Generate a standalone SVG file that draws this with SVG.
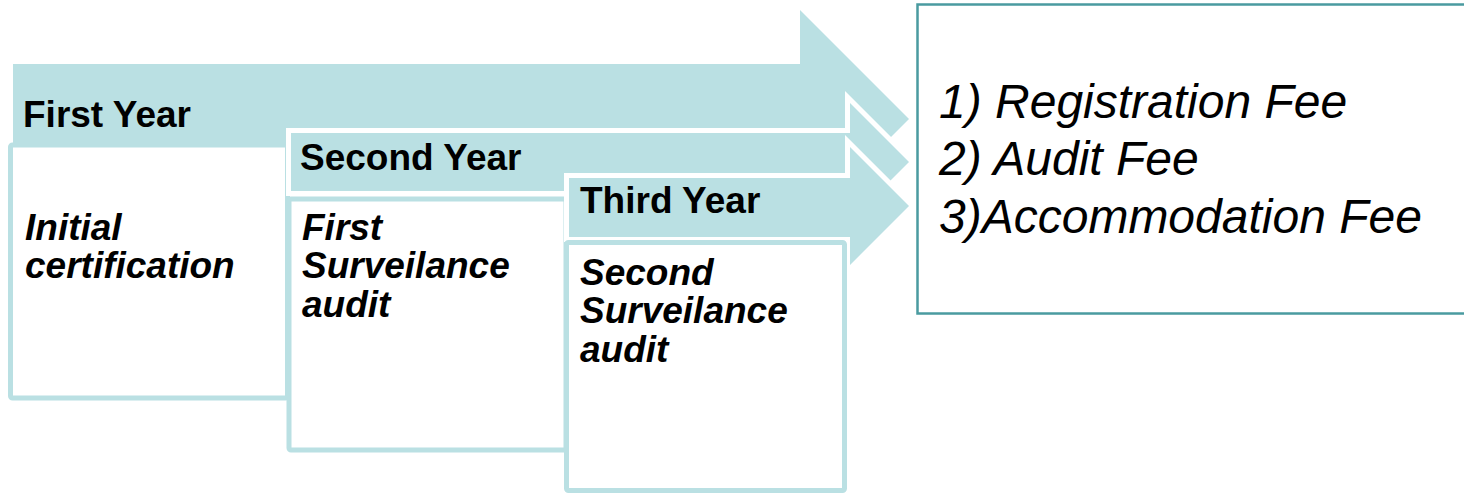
<svg xmlns="http://www.w3.org/2000/svg" width="1464" height="493" viewBox="0 0 1464 493">
<style>
.arrow{fill:#bae0e3;}
.arrow.out{stroke:#ffffff;stroke-width:10;stroke-linejoin:miter;stroke-miterlimit:10;paint-order:stroke;}
.box{fill:#ffffff;stroke:#bae0e3;stroke-width:5;}
.head{font-family:"Liberation Sans",Arial,sans-serif;font-weight:bold;font-size:37px;fill:#000;}
.body{font-family:"Liberation Sans",Arial,sans-serif;font-weight:bold;font-style:italic;font-size:37px;fill:#000;}
.fee{font-family:"Liberation Sans",Arial,sans-serif;font-style:italic;font-size:48px;fill:#000;}
</style>
<rect width="1464" height="493" fill="#ffffff"/>
<g id="year1">
<polygon class="arrow" points="13,64 800,64 800,10 909,119 800,228 800,174 13,174"/>
<text class="head" x="23" y="127">First Year</text>
</g>
<g id="box1">
<rect class="box" x="10.5" y="145" width="277" height="253" rx="2"/>
<text class="body" x="25" y="240">Initial</text>
<text class="body" x="25" y="278">certification</text>
</g>
<g id="year2">
<polygon class="arrow out" points="291,133 850,133 850,103 909,162 850,221 850,191 291,191"/>
<text class="head" x="300" y="170">Second Year</text>
</g>
<g id="box2">
<rect class="box" x="289" y="199" width="277" height="251" rx="2"/>
<text class="body" x="302" y="240">First</text>
<text class="body" x="302" y="278">Surveilance</text>
<text class="body" x="302" y="317">audit</text>
</g>
<g id="year3">
<polygon class="arrow out" points="569,178 850,178 850,147 909,206 850,265 850,237 569,237"/>
<text class="head" x="580" y="213">Third Year</text>
</g>
<g id="box3">
<rect class="box" x="566.5" y="242.5" width="278" height="248" rx="2"/>
<text class="body" x="580" y="285">Second</text>
<text class="body" x="580" y="323">Surveilance</text>
<text class="body" x="580" y="362">audit</text>
</g>
<g id="fees">
<rect x="917.5" y="4.5" width="560" height="309" fill="#ffffff" stroke="#4a9ba0" stroke-width="2.5"/>
<text class="fee" x="939" y="118">1) Registration Fee</text>
<text class="fee" x="939" y="175">2) Audit Fee</text>
<text class="fee" x="939" y="233">3)Accommodation Fee</text>
</g>
<g id="connectors"></g>
</svg>
